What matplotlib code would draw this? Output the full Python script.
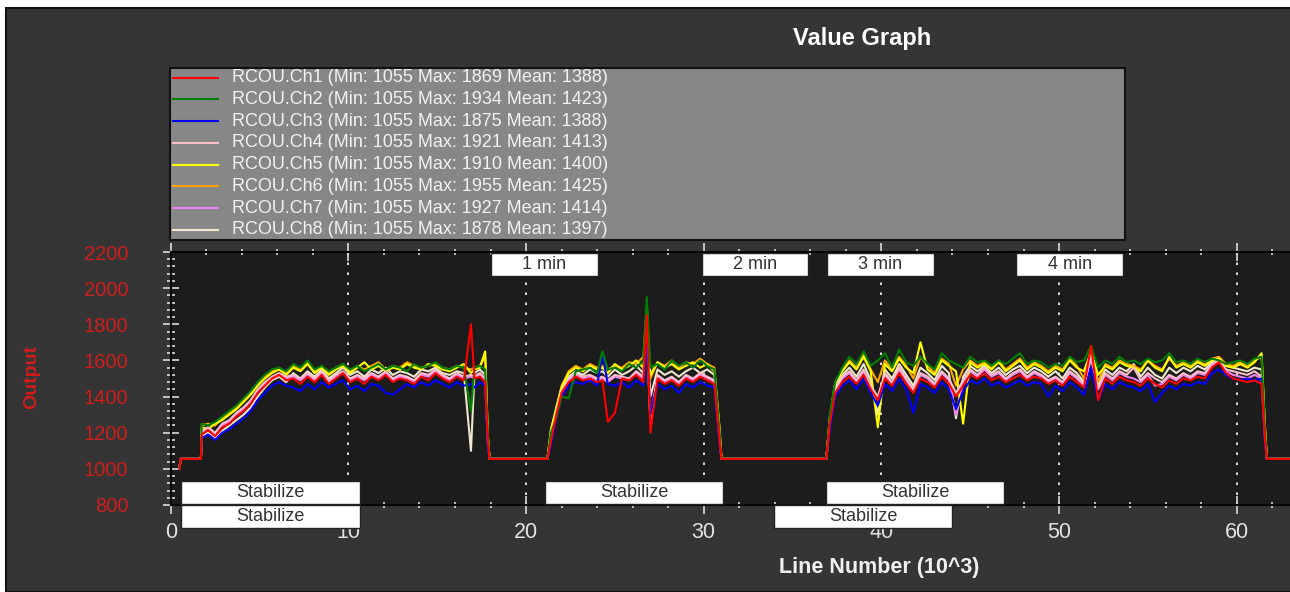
import matplotlib
matplotlib.use("Agg")
import matplotlib.pyplot as plt
from matplotlib.patches import Rectangle
from matplotlib.lines import Line2D
from matplotlib.ticker import MultipleLocator
import matplotlib.transforms as mtrans

plt.rcParams['font.family'] = ['Liberation Sans', 'DejaVu Sans']

# line number in thousands, shared by all channels
line_k = [0.5, 0.55, 1.7,
          1.75, 2.1, 2.5, 2.9, 3.3, 3.7, 4.1, 4.5, 4.9, 5.3, 5.7, 6.1, 6.5, 6.9, 7.3, 7.7, 8.1, 8.5, 8.9, 9.3,
          9.7, 10.1, 10.5, 10.9, 11.3, 11.7, 12.1, 12.5, 12.9, 13.3, 13.7, 14.1, 14.5, 14.9, 15.3, 15.7, 16.1,
          16.5, 16.9, 17.1, 17.4, 17.7, 17.85, 17.95,
          21.2, 21.4, 21.7, 22.0, 22.4, 22.8, 23.2, 23.6, 24.0, 24.3, 24.6, 25.0, 25.4, 25.8, 26.2, 26.6, 26.8,
          27.0, 27.4, 27.8, 28.2, 28.6, 29.0, 29.4, 29.8, 30.2, 30.6, 30.9, 31.0,
          36.9, 37.1, 37.4, 37.8, 38.2, 38.6, 39.0, 39.4, 39.8, 40.2, 40.6, 41.0, 41.4, 41.8, 42.2, 42.6, 43.0,
          43.4, 43.8, 44.2, 44.6, 45.0, 45.4, 45.8, 46.2, 46.6, 47.0, 47.4, 47.8, 48.2, 48.6, 49.0, 49.4, 49.8,
          50.2, 50.6, 51.0, 51.4, 51.8, 52.2, 52.6, 53.0, 53.4, 53.8, 54.2, 54.6, 55.0, 55.4, 55.8, 56.2, 56.6,
          57.0, 57.4, 57.8, 58.2, 58.6, 59.0, 59.4, 59.8, 60.2, 60.6, 61.0, 61.4, 61.6, 61.7, 63.5]

rcou_ch1 = [1000, 1055, 1055,
            1190, 1215, 1180, 1230, 1250, 1290, 1320, 1360, 1420, 1460, 1500, 1520, 1490, 1500, 1470, 1510, 1480,
            1520, 1470, 1500, 1530, 1480, 1500, 1470, 1510, 1490, 1520, 1480, 1500, 1490, 1470, 1510, 1490, 1530,
            1500, 1480, 1510, 1490, 1800, 1500, 1510, 1480, 1150, 1055,
            1055, 1150, 1300, 1420, 1480, 1510, 1490, 1500, 1480, 1490, 1260, 1310, 1500, 1490, 1520, 1480, 1850,
            1200, 1500, 1470, 1490, 1460, 1500, 1480, 1510, 1490, 1470, 1150, 1055,
            1055, 1250, 1420, 1480, 1510, 1470, 1520, 1440, 1380, 1500, 1460, 1530, 1470, 1420, 1500, 1480, 1450,
            1510, 1470, 1400, 1460, 1520, 1500, 1530, 1490, 1510, 1480, 1500, 1520, 1490, 1510, 1500, 1470, 1490,
            1460, 1510, 1480, 1450, 1680, 1380, 1500, 1470, 1510, 1490, 1480, 1460, 1500, 1470, 1450, 1490, 1470,
            1500, 1490, 1510, 1500, 1560, 1590, 1530, 1500, 1490, 1480, 1490, 1470, 1150, 1055, 1055]
rcou_ch2 = [1000, 1055, 1055,
            1250, 1240, 1260, 1290, 1320, 1350, 1390, 1430, 1480, 1520, 1550, 1560, 1540, 1580, 1560, 1600, 1550,
            1570, 1540, 1560, 1580, 1550, 1570, 1540, 1560, 1580, 1550, 1570, 1560, 1540, 1580, 1560, 1570, 1590,
            1560, 1550, 1570, 1560, 1320, 1560, 1570, 1550, 1200, 1055,
            1055, 1200, 1280, 1400, 1390, 1540, 1550, 1560, 1530, 1650, 1550, 1560, 1540, 1580, 1560, 1600, 1950,
            1560, 1580, 1550, 1600, 1570, 1590, 1560, 1600, 1570, 1550, 1200, 1055,
            1055, 1300, 1480, 1560, 1620, 1580, 1650, 1570, 1600, 1640, 1560, 1660, 1590, 1570, 1620, 1580, 1550,
            1640, 1600, 1580, 1560, 1620, 1590, 1600, 1570, 1600, 1580, 1610, 1640, 1580, 1600, 1590, 1560, 1580,
            1570, 1620, 1590, 1600, 1680, 1560, 1600, 1580, 1620, 1590, 1600, 1580, 1610, 1590, 1600, 1640, 1590,
            1600, 1580, 1610, 1590, 1610, 1600, 1580, 1590, 1600, 1580, 1610, 1620, 1200, 1055, 1055]
rcou_ch3 = [1000, 1055, 1055,
            1170, 1190, 1160, 1200, 1220, 1250, 1280, 1320, 1380, 1420, 1460, 1480, 1460, 1450, 1430, 1470, 1440,
            1480, 1450, 1470, 1490, 1440, 1460, 1430, 1470, 1460, 1420, 1410, 1440, 1470, 1450, 1480, 1460, 1490,
            1470, 1450, 1480, 1460, 1470, 1450, 1480, 1460, 1120, 1055,
            1055, 1130, 1280, 1400, 1460, 1480, 1470, 1490, 1460, 1640, 1470, 1460, 1480, 1450, 1490, 1460, 1700,
            1300, 1470, 1440, 1460, 1420, 1470, 1450, 1480, 1460, 1450, 1130, 1055,
            1055, 1220, 1400, 1460, 1490, 1440, 1500, 1420, 1350, 1470, 1430, 1500, 1440, 1310, 1470, 1450, 1420,
            1480, 1440, 1330, 1430, 1490, 1470, 1500, 1460, 1480, 1450, 1470, 1490, 1460, 1480, 1470, 1400, 1460,
            1430, 1480, 1450, 1410, 1560, 1380, 1470, 1440, 1480, 1460, 1450, 1430, 1470, 1370, 1420, 1460, 1440,
            1470, 1460, 1480, 1470, 1530, 1550, 1520, 1500, 1490, 1500, 1490, 1500, 1130, 1055, 1055]
rcou_ch4 = [1000, 1055, 1055,
            1210, 1230, 1200, 1250, 1270, 1310, 1340, 1380, 1440, 1480, 1510, 1530, 1510, 1520, 1500, 1530, 1500,
            1540, 1490, 1520, 1540, 1500, 1520, 1500, 1530, 1510, 1540, 1500, 1520, 1510, 1490, 1530, 1520, 1550,
            1520, 1500, 1530, 1510, 1520, 1510, 1530, 1500, 1160, 1055,
            1055, 1160, 1310, 1430, 1500, 1530, 1510, 1520, 1500, 1510, 1490, 1520, 1510, 1500, 1540, 1510, 1750,
            1250, 1520, 1490, 1510, 1480, 1520, 1500, 1530, 1510, 1490, 1160, 1055,
            1055, 1260, 1440, 1510, 1540, 1490, 1550, 1460, 1400, 1530, 1480, 1560, 1500, 1440, 1530, 1510, 1470,
            1540, 1500, 1420, 1490, 1550, 1520, 1560, 1520, 1540, 1500, 1530, 1550, 1510, 1540, 1520, 1490, 1510,
            1480, 1540, 1510, 1470, 1620, 1450, 1530, 1500, 1540, 1520, 1560, 1490, 1530, 1500, 1480, 1520, 1500,
            1530, 1510, 1540, 1530, 1580, 1600, 1550, 1540, 1530, 1520, 1540, 1510, 1160, 1055, 1055]
rcou_ch5 = [1000, 1055, 1055,
            1230, 1220, 1250, 1270, 1300, 1330, 1370, 1410, 1460, 1500, 1530, 1550, 1520, 1560, 1540, 1580, 1530,
            1560, 1520, 1550, 1570, 1530, 1560, 1590, 1550, 1570, 1540, 1560, 1550, 1580, 1560, 1550, 1580, 1570,
            1550, 1540, 1560, 1580, 1530, 1550, 1560, 1650, 1180, 1055,
            1055, 1210, 1340, 1450, 1530, 1560, 1540, 1570, 1550, 1560, 1530, 1580, 1550, 1570, 1600, 1560, 1780,
            1520, 1590, 1560, 1580, 1550, 1570, 1590, 1560, 1580, 1540, 1210, 1055,
            1055, 1280, 1470, 1540, 1590, 1550, 1620, 1540, 1230, 1580, 1540, 1610, 1560, 1530, 1700, 1550, 1520,
            1600, 1570, 1540, 1250, 1590, 1560, 1580, 1550, 1590, 1540, 1570, 1600, 1550, 1580, 1560, 1530, 1560,
            1540, 1600, 1560, 1540, 1650, 1520, 1570, 1550, 1590, 1570, 1560, 1540, 1600, 1560, 1540, 1620, 1560,
            1580, 1560, 1590, 1570, 1600, 1610, 1570, 1560, 1580, 1560, 1590, 1640, 1210, 1055, 1055]
rcou_ch6 = [1000, 1055, 1055,
            1240, 1250, 1240, 1280, 1310, 1340, 1380, 1420, 1470, 1510, 1540, 1560, 1530, 1570, 1550, 1590, 1540,
            1570, 1530, 1560, 1580, 1540, 1570, 1550, 1570, 1590, 1550, 1570, 1560, 1590, 1570, 1560, 1570, 1580,
            1560, 1550, 1570, 1560, 1550, 1560, 1570, 1620, 1190, 1055,
            1055, 1220, 1330, 1460, 1540, 1570, 1550, 1580, 1560, 1570, 1550, 1570, 1560, 1590, 1580, 1620, 1900,
            1500, 1590, 1570, 1600, 1560, 1590, 1580, 1610, 1580, 1560, 1220, 1055,
            1055, 1290, 1480, 1550, 1600, 1560, 1640, 1550, 1480, 1600, 1550, 1620, 1570, 1500, 1620, 1570, 1530,
            1610, 1580, 1460, 1550, 1600, 1570, 1590, 1560, 1600, 1550, 1580, 1610, 1560, 1590, 1570, 1540, 1570,
            1550, 1610, 1570, 1500, 1660, 1480, 1580, 1560, 1600, 1580, 1570, 1550, 1600, 1570, 1550, 1610, 1570,
            1590, 1570, 1600, 1580, 1610, 1620, 1580, 1570, 1590, 1570, 1600, 1620, 1220, 1055, 1055]
rcou_ch7 = [1000, 1055, 1055,
            1200, 1220, 1190, 1240, 1260, 1300, 1330, 1370, 1430, 1470, 1500, 1520, 1500, 1510, 1490, 1520, 1490,
            1530, 1480, 1510, 1530, 1490, 1510, 1490, 1520, 1500, 1530, 1490, 1510, 1500, 1480, 1520, 1510, 1540,
            1510, 1490, 1520, 1500, 1510, 1500, 1520, 1490, 1140, 1055,
            1055, 1150, 1300, 1420, 1490, 1520, 1500, 1510, 1490, 1500, 1480, 1510, 1500, 1490, 1530, 1500, 1720,
            1280, 1510, 1480, 1500, 1470, 1510, 1490, 1520, 1500, 1480, 1150, 1055,
            1055, 1240, 1430, 1500, 1530, 1480, 1540, 1450, 1390, 1520, 1470, 1550, 1490, 1430, 1520, 1500, 1460,
            1530, 1490, 1300, 1480, 1540, 1510, 1550, 1510, 1530, 1490, 1520, 1540, 1500, 1530, 1510, 1480, 1500,
            1470, 1530, 1500, 1460, 1610, 1440, 1520, 1490, 1530, 1510, 1500, 1480, 1520, 1460, 1470, 1510, 1490,
            1520, 1500, 1530, 1520, 1570, 1590, 1540, 1520, 1510, 1500, 1520, 1500, 1150, 1055, 1055]
rcou_ch8 = [1000, 1055, 1055,
            1180, 1200, 1170, 1210, 1240, 1270, 1300, 1340, 1400, 1450, 1490, 1510, 1480, 1530, 1500, 1540, 1510,
            1550, 1500, 1530, 1560, 1520, 1540, 1510, 1550, 1530, 1560, 1520, 1540, 1530, 1510, 1550, 1540, 1560,
            1530, 1520, 1540, 1530, 1100, 1530, 1550, 1520, 1170, 1055,
            1055, 1180, 1320, 1440, 1510, 1540, 1520, 1550, 1530, 1540, 1510, 1550, 1520, 1540, 1570, 1530, 1760,
            1400, 1550, 1520, 1540, 1510, 1540, 1560, 1530, 1550, 1520, 1180, 1055,
            1055, 1270, 1450, 1520, 1560, 1510, 1580, 1490, 1300, 1550, 1500, 1580, 1520, 1460, 1560, 1530, 1490,
            1570, 1530, 1280, 1510, 1570, 1540, 1570, 1530, 1560, 1520, 1550, 1570, 1530, 1560, 1540, 1510, 1540,
            1500, 1560, 1530, 1480, 1630, 1460, 1550, 1520, 1560, 1540, 1580, 1510, 1560, 1520, 1500, 1560, 1530,
            1560, 1540, 1570, 1550, 1590, 1610, 1570, 1560, 1550, 1540, 1560, 1550, 1180, 1055, 1055]

channels = [rcou_ch1, rcou_ch2, rcou_ch3, rcou_ch4, rcou_ch5, rcou_ch6, rcou_ch7, rcou_ch8]
ch_colors = ['#ff0000', '#008000', '#0000ff', '#ffc0cb', '#ffff00', '#ffa500', '#ee82ee', '#efe8cc']
ch_min = [1055, 1055, 1055, 1055, 1055, 1055, 1055, 1055]
ch_max = [1869, 1934, 1875, 1921, 1910, 1955, 1927, 1878]
ch_mean = [1388, 1423, 1388, 1413, 1400, 1425, 1414, 1397]

# flight mode / time markers (start, end in 10^3 lines)
time_labels = ['1 min', '2 min', '3 min', '4 min']
time_start = [18.0, 29.9, 36.95, 47.6]
time_end = [24.05, 35.85, 42.95, 53.6]
mode_upper_start = [0.6, 21.07, 36.9]
mode_upper_end = [10.65, 31.1, 46.9]
mode_lower_start = [0.6, 33.95]
mode_lower_end = [10.65, 43.97]

W, H = 1290, 592


def fx(px):
    return px / W


def fy(py):
    return 1 - py / H


fig = plt.figure(figsize=(W / 100, H / 100), dpi=100, facecolor='white')

# dark control panel
fig.add_artist(Rectangle((fx(6), 0), 1, fy(8), transform=fig.transFigure,
                         facecolor='#353535', edgecolor='#111111', lw=1.5, zorder=0))

ax = fig.add_axes([fx(170.7), fy(505), (W - 170.7) / W, 253 / H])
ax.set_facecolor('#1c1c1c')

for i in range(7, -1, -1):
    ys = channels[i]
    n = min(len(line_k), len(ys))
    ax.plot(line_k[:n], ys[:n], color=ch_colors[i], lw=1.5, zorder=2 + (8 - i) * 0.01)

ax.set_xlim(0, (W - 170.7) / 17.767)
ax.set_ylim(800, 2200)
ax.set_xticks(range(0, 61, 10))
ax.xaxis.set_minor_locator(MultipleLocator(2))
ax.set_yticks(range(800, 2201, 200))
ax.yaxis.set_minor_locator(MultipleLocator(40))

ax.tick_params(axis='x', which='major', direction='inout', length=13, width=1.2, color='#dddddd',
               top=True, labelsize=15.5, labelcolor='#e2e2e2', pad=6)
ax.tick_params(axis='x', which='minor', direction='inout', length=5, width=1.2, color='#dddddd', top=True)
ax.tick_params(axis='y', which='major', direction='inout', length=11, width=1.2, color='#dddddd',
               labelsize=14.5, labelcolor='#d01c1c', pad=25)
ax.tick_params(axis='y', which='minor', direction='inout', length=6, width=1.2, color='#dddddd')

ax.grid(axis='x', which='major', color='white', linestyle=(0, (1.5, 4.5)), linewidth=1.2)
for s in ['top', 'bottom', 'left']:
    ax.spines[s].set_color('#050505')
    ax.spines[s].set_linewidth(1.5)
ax.spines['right'].set_visible(False)

blend = mtrans.blended_transform_factory(ax.transData, ax.transAxes)


def mode_box(x0, x1, y0, y1, label):
    ax.add_patch(Rectangle((x0, y0), x1 - x0, y1 - y0, transform=blend, facecolor='white',
                           edgecolor='#222222', lw=1, zorder=10, clip_on=False))
    ax.text((x0 + x1) / 2, (y0 + y1) / 2, label, transform=blend, ha='center', va='center',
            fontsize=13, color='#333333', zorder=11, clip_on=False)


for lab, a, b in zip(time_labels, time_start, time_end):
    mode_box(a, b, 0.905, 0.996, lab)
for a, b in zip(mode_upper_start, mode_upper_end):
    mode_box(a, b, 0.004, 0.095, 'Stabilize')
for a, b in zip(mode_lower_start, mode_lower_end):
    mode_box(a, b, -0.091, 0.0, 'Stabilize')

# legend panel
fig.add_artist(Rectangle((fx(170), fy(240)), (1125 - 170) / W, (240 - 68) / H, transform=fig.transFigure,
                         facecolor='#878787', edgecolor='#111111', lw=1.5, zorder=5))
for i in range(8):
    yy = 77.6 + i * 21.77
    fig.add_artist(Line2D([fx(173), fx(218)], [fy(yy), fy(yy)], transform=fig.transFigure,
                          color=ch_colors[i], lw=1.5, zorder=6))
    label = 'RCOU.Ch%d (Min: %d Max: %d Mean: %d)' % (i + 1, ch_min[i], ch_max[i], ch_mean[i])
    fig.text(fx(232), fy(yy), label, ha='left', va='center', fontsize=13, color='#f2f2f2', zorder=7)

fig.text(fx(862), fy(38.5), 'Value Graph', ha='center', va='center', fontsize=17,
         fontweight='bold', color='white')
fig.text(fx(879), fy(567), 'Line Number (10^3)', ha='center', va='center', fontsize=15.5,
         fontweight='bold', color='#f0f0f0')
fig.text(fx(31.5), fy(377), 'Output', ha='center', va='center', rotation=90, fontsize=14,
         fontweight='bold', color='#d01c1c')

fig.savefig('out.png', dpi=100, facecolor=fig.get_facecolor())
